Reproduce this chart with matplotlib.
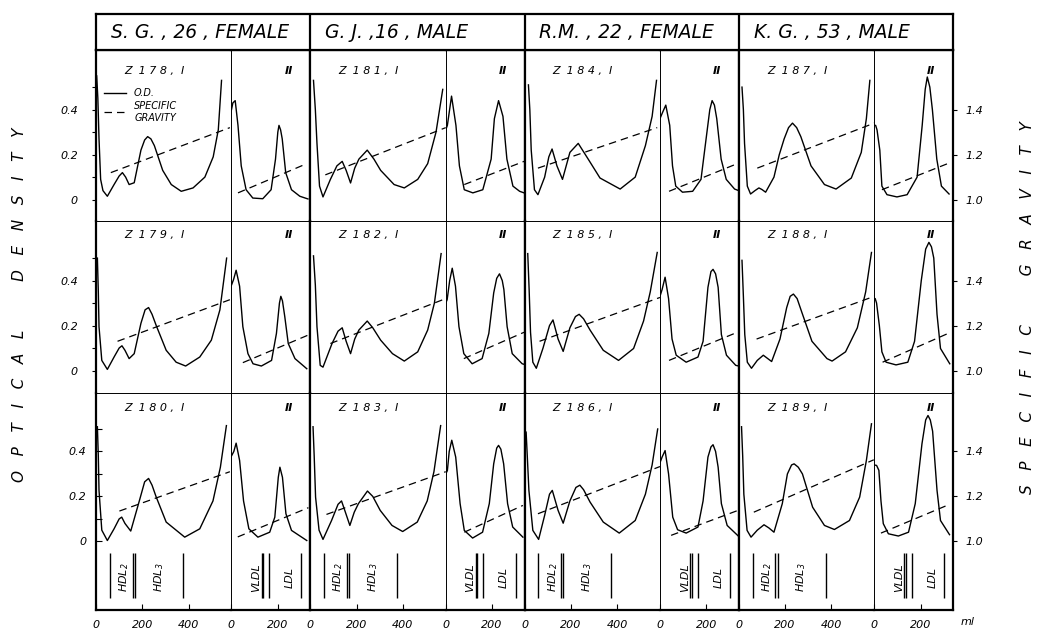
import matplotlib
matplotlib.use("Agg")
import matplotlib.pyplot as plt
from matplotlib.gridspec import GridSpec

# ---------------- data ----------------
subjects = ["S. G. , 26 , FEMALE", "G. J. ,16 , MALE", "R.M. , 22 , FEMALE", "K. G. , 53 , MALE"]
run_ids = [[178, 181, 184, 187],
           [179, 182, 185, 188],
           [180, 183, 186, 189]]

od_ticks = [0, 0.1, 0.2, 0.3, 0.4, 0.5]
od_ticklabels = ["0", "", "0.2", "", "0.4", ""]
sg_ticks = [1.0, 1.2, 1.4]
sg_ticklabels = ["1.0", "1.2", "1.4"]
vol_ticks_I = [0, 200, 400]
vol_ticks_II = [0, 200]

# fraction I (ml, O.D.) and specific gravity gradient (ml, s.g.)
z178_vol = [3, 8, 13, 20, 30, 49, 78, 100, 114, 128, 143, 165, 194, 210, 223, 237, 252, 288, 325, 368, 419, 470, 506, 528, 542]
z178_od = [0.55, 0.45, 0.27, 0.09, 0.04, 0.015, 0.067, 0.105, 0.12, 0.10, 0.067, 0.075, 0.22, 0.265, 0.28, 0.27, 0.24, 0.13, 0.067, 0.037, 0.052, 0.10, 0.19, 0.31, 0.53]
z178_sg_vol = [64, 578]
z178_sg = [1.12, 1.32]
z181_vol = [14, 22, 29, 40, 55, 87, 115, 138, 155, 174, 192, 210, 246, 275, 304, 362, 406, 464, 507, 543, 572]
z181_od = [0.53, 0.40, 0.25, 0.06, 0.012, 0.09, 0.15, 0.17, 0.13, 0.074, 0.14, 0.18, 0.22, 0.18, 0.13, 0.067, 0.052, 0.09, 0.16, 0.30, 0.49]
z181_sg_vol = [65, 585]
z181_sg = [1.11, 1.32]
z184_vol = [17, 23, 29, 43, 58, 87, 105, 119, 140, 164, 196, 232, 275, 326, 413, 478, 522, 551, 570]
z184_od = [0.51, 0.40, 0.22, 0.044, 0.022, 0.10, 0.19, 0.225, 0.15, 0.09, 0.21, 0.25, 0.18, 0.096, 0.047, 0.10, 0.24, 0.37, 0.53]
z184_sg_vol = [58, 573]
z184_sg = [1.14, 1.32]
z187_vol = [14, 20, 25, 37, 51, 70, 87, 100, 116, 152, 175, 196, 215, 232, 250, 268, 312, 370, 420, 486, 529, 551, 566]
z187_od = [0.50, 0.40, 0.25, 0.06, 0.025, 0.04, 0.052, 0.045, 0.033, 0.10, 0.20, 0.27, 0.32, 0.34, 0.32, 0.28, 0.15, 0.067, 0.047, 0.096, 0.21, 0.36, 0.53]
z187_sg_vol = [80, 585]
z187_sg = [1.14, 1.34]

z179_vol = [6, 10, 13, 25, 49, 78, 100, 112, 125, 143, 165, 194, 212, 227, 242, 260, 303, 346, 387, 448, 498, 535, 564]
z179_od = [0.50, 0.35, 0.195, 0.045, 0.005, 0.06, 0.10, 0.11, 0.09, 0.053, 0.075, 0.21, 0.27, 0.28, 0.25, 0.20, 0.09, 0.037, 0.02, 0.06, 0.135, 0.27, 0.50]
z179_sg_vol = [93, 578]
z179_sg = [1.13, 1.315]
z182_vol = [14, 22, 29, 43, 55, 94, 120, 138, 155, 174, 192, 210, 246, 270, 304, 355, 406, 464, 507, 536, 565]
z182_od = [0.51, 0.38, 0.195, 0.023, 0.015, 0.12, 0.175, 0.19, 0.13, 0.075, 0.14, 0.18, 0.22, 0.19, 0.135, 0.075, 0.042, 0.083, 0.18, 0.30, 0.52]
z182_sg_vol = [87, 585]
z182_sg = [1.12, 1.32]
z185_vol = [14, 20, 26, 36, 51, 80, 108, 123, 145, 167, 196, 220, 236, 255, 283, 340, 406, 471, 514, 543, 573]
z185_od = [0.52, 0.36, 0.17, 0.037, 0.01, 0.10, 0.20, 0.225, 0.14, 0.085, 0.19, 0.24, 0.25, 0.23, 0.18, 0.09, 0.045, 0.098, 0.22, 0.35, 0.525]
z185_sg_vol = [65, 585]
z185_sg = [1.13, 1.325]
z188_vol = [14, 20, 26, 37, 55, 80, 106, 142, 178, 207, 222, 236, 252, 272, 316, 381, 403, 461, 512, 548, 573]
z188_od = [0.49, 0.33, 0.16, 0.037, 0.01, 0.045, 0.068, 0.04, 0.14, 0.28, 0.33, 0.34, 0.32, 0.26, 0.13, 0.053, 0.042, 0.083, 0.19, 0.35, 0.525]
z188_sg_vol = [77, 585]
z188_sg = [1.14, 1.33]

z180_vol = [6, 10, 13, 25, 49, 78, 100, 111, 125, 150, 187, 210, 227, 242, 259, 303, 383, 448, 505, 537, 563]
z180_od = [0.51, 0.38, 0.227, 0.05, 0.004, 0.056, 0.10, 0.108, 0.08, 0.046, 0.18, 0.265, 0.28, 0.25, 0.20, 0.086, 0.019, 0.056, 0.18, 0.33, 0.515]
z180_sg_vol = [101, 578]
z180_sg = [1.135, 1.31]
z183_vol = [12, 17, 23, 38, 55, 92, 120, 135, 150, 171, 190, 208, 247, 270, 302, 353, 399, 462, 505, 534, 563]
z183_od = [0.51, 0.38, 0.197, 0.05, 0.009, 0.093, 0.165, 0.18, 0.135, 0.071, 0.13, 0.168, 0.224, 0.20, 0.138, 0.071, 0.044, 0.086, 0.18, 0.31, 0.515]
z183_sg_vol = [70, 585]
z183_sg = [1.12, 1.31]
z186_vol = [7, 12, 19, 36, 61, 87, 108, 120, 145, 167, 196, 222, 239, 255, 283, 340, 409, 478, 522, 551, 575]
z186_od = [0.486, 0.38, 0.227, 0.049, 0.009, 0.116, 0.21, 0.227, 0.138, 0.081, 0.18, 0.24, 0.25, 0.23, 0.175, 0.086, 0.037, 0.093, 0.21, 0.34, 0.50]
z186_sg_vol = [58, 585]
z186_sg = [1.123, 1.333]
z189_vol = [12, 17, 22, 36, 53, 80, 109, 130, 152, 188, 210, 228, 239, 257, 275, 319, 370, 413, 478, 522, 551, 573]
z189_od = [0.51, 0.38, 0.21, 0.049, 0.019, 0.05, 0.074, 0.06, 0.041, 0.168, 0.30, 0.34, 0.345, 0.33, 0.30, 0.152, 0.071, 0.053, 0.093, 0.197, 0.36, 0.523]
z189_sg_vol = [65, 583]
z189_sg = [1.13, 1.363]

# fraction II
z178_ii_vol = [0, 6, 16, 28, 42, 63, 92, 135, 171, 190, 200, 205, 212, 219, 234, 259, 295, 330]
z178_ii_od = [0.40, 0.43, 0.44, 0.33, 0.15, 0.044, 0.007, 0.004, 0.044, 0.18, 0.30, 0.33, 0.31, 0.27, 0.12, 0.044, 0.015, 0.003]
z178_ii_sg_vol = [28, 325]
z178_ii_sg = [1.03, 1.16]
z181_ii_vol = [0, 7, 25, 44, 59, 80, 117, 160, 196, 210, 228, 247, 264, 290, 319, 338]
z181_ii_od = [0.31, 0.33, 0.46, 0.33, 0.15, 0.044, 0.03, 0.044, 0.18, 0.36, 0.44, 0.37, 0.18, 0.06, 0.037, 0.03]
z181_ii_sg_vol = [80, 338]
z181_ii_sg = [1.067, 1.17]
z184_ii_vol = [0, 10, 25, 42, 54, 68, 97, 141, 177, 199, 215, 225, 235, 245, 264, 286, 322, 340]
z184_ii_od = [0.36, 0.385, 0.42, 0.33, 0.15, 0.06, 0.033, 0.037, 0.09, 0.27, 0.40, 0.44, 0.42, 0.36, 0.18, 0.09, 0.047, 0.04]
z184_ii_sg_vol = [39, 322]
z184_ii_sg = [1.037, 1.155]
z187_ii_vol = [0, 6, 12, 20, 24, 33, 55, 98, 142, 185, 207, 220, 229, 240, 251, 270, 290, 323]
z187_ii_od = [0.33, 0.33, 0.31, 0.25, 0.22, 0.06, 0.022, 0.012, 0.022, 0.10, 0.33, 0.49, 0.545, 0.50, 0.40, 0.18, 0.06, 0.025]
z187_ii_sg_vol = [33, 317]
z187_ii_sg = [1.044, 1.16]

z179_ii_vol = [0, 9, 20, 35, 49, 71, 93, 129, 173, 194, 207, 213, 220, 230, 245, 274, 325]
z179_ii_od = [0.38, 0.405, 0.446, 0.375, 0.195, 0.075, 0.03, 0.02, 0.045, 0.165, 0.30, 0.33, 0.31, 0.24, 0.12, 0.053, 0.008]
z179_ii_sg_vol = [49, 332]
z179_ii_sg = [1.035, 1.158]
z182_ii_vol = [0, 6, 17, 28, 42, 57, 78, 114, 157, 186, 207, 220, 232, 244, 251, 265, 287, 330, 340]
z182_ii_od = [0.30, 0.315, 0.40, 0.455, 0.375, 0.195, 0.075, 0.03, 0.053, 0.165, 0.345, 0.41, 0.43, 0.40, 0.36, 0.195, 0.075, 0.03, 0.027]
z182_ii_sg_vol = [78, 338]
z182_ii_sg = [1.053, 1.17]
z185_ii_vol = [0, 9, 22, 37, 52, 70, 113, 164, 186, 207, 220, 229, 240, 251, 265, 287, 327, 340]
z185_ii_od = [0.33, 0.36, 0.415, 0.32, 0.14, 0.068, 0.037, 0.06, 0.13, 0.37, 0.44, 0.45, 0.43, 0.37, 0.16, 0.068, 0.023, 0.02]
z185_ii_sg_vol = [39, 322]
z185_ii_sg = [1.045, 1.165]
z188_ii_vol = [0, 4, 10, 22, 33, 51, 94, 145, 174, 203, 222, 236, 247, 257, 271, 286, 326]
z188_ii_od = [0.32, 0.32, 0.30, 0.20, 0.083, 0.037, 0.025, 0.037, 0.13, 0.40, 0.54, 0.57, 0.55, 0.50, 0.25, 0.098, 0.03]
z188_ii_sg_vol = [36, 319]
z188_ii_sg = [1.037, 1.165]

z180_ii_vol = [0, 10, 20, 35, 52, 75, 114, 165, 187, 202, 209, 220, 235, 259, 325]
z180_ii_od = [0.38, 0.40, 0.437, 0.36, 0.18, 0.056, 0.019, 0.041, 0.108, 0.285, 0.33, 0.285, 0.123, 0.049, 0.004]
z180_ii_sg_vol = [27, 332]
z180_ii_sg = [1.02, 1.15]
z183_ii_vol = [0, 7, 15, 26, 43, 62, 80, 116, 159, 188, 207, 220, 228, 238, 250, 267, 289, 333]
z183_ii_od = [0.30, 0.315, 0.40, 0.45, 0.375, 0.168, 0.049, 0.015, 0.041, 0.168, 0.345, 0.415, 0.427, 0.41, 0.345, 0.168, 0.064, 0.019]
z183_ii_sg_vol = [80, 333]
z183_ii_sg = [1.041, 1.16]
z186_ii_vol = [0, 9, 22, 37, 55, 76, 113, 164, 186, 207, 220, 229, 240, 251, 265, 290, 340]
z186_ii_od = [0.35, 0.375, 0.404, 0.30, 0.108, 0.052, 0.037, 0.064, 0.18, 0.375, 0.42, 0.43, 0.40, 0.33, 0.168, 0.071, 0.022]
z186_ii_sg_vol = [48, 337]
z186_ii_sg = [1.027, 1.138]
z189_ii_vol = [0, 10, 20, 29, 39, 61, 104, 148, 177, 206, 222, 232, 242, 252, 271, 286, 325]
z189_ii_od = [0.34, 0.338, 0.316, 0.18, 0.079, 0.034, 0.024, 0.041, 0.168, 0.434, 0.54, 0.56, 0.54, 0.49, 0.227, 0.093, 0.03]
z189_ii_sg_vol = [29, 314]
z189_ii_sg = [1.037, 1.16]

# lipoprotein class boundaries (ml) marked under the bottom row
cuts_I = [60, 158, 168, 375]
names_I = ["HDL$_2$", "HDL$_3$"]
names_I_vol = [122, 271]
cuts_II = [130, 137, 162, 302]
names_II = ["VLDL", "LDL"]
names_II_vol = [107, 252]

frac_I = {
    178: (z178_vol, z178_od, z178_sg_vol, z178_sg), 181: (z181_vol, z181_od, z181_sg_vol, z181_sg),
    184: (z184_vol, z184_od, z184_sg_vol, z184_sg), 187: (z187_vol, z187_od, z187_sg_vol, z187_sg),
    179: (z179_vol, z179_od, z179_sg_vol, z179_sg), 182: (z182_vol, z182_od, z182_sg_vol, z182_sg),
    185: (z185_vol, z185_od, z185_sg_vol, z185_sg), 188: (z188_vol, z188_od, z188_sg_vol, z188_sg),
    180: (z180_vol, z180_od, z180_sg_vol, z180_sg), 183: (z183_vol, z183_od, z183_sg_vol, z183_sg),
    186: (z186_vol, z186_od, z186_sg_vol, z186_sg), 189: (z189_vol, z189_od, z189_sg_vol, z189_sg),
}
frac_II = {
    178: (z178_ii_vol, z178_ii_od, z178_ii_sg_vol, z178_ii_sg), 181: (z181_ii_vol, z181_ii_od, z181_ii_sg_vol, z181_ii_sg),
    184: (z184_ii_vol, z184_ii_od, z184_ii_sg_vol, z184_ii_sg), 187: (z187_ii_vol, z187_ii_od, z187_ii_sg_vol, z187_ii_sg),
    179: (z179_ii_vol, z179_ii_od, z179_ii_sg_vol, z179_ii_sg), 182: (z182_ii_vol, z182_ii_od, z182_ii_sg_vol, z182_ii_sg),
    185: (z185_ii_vol, z185_ii_od, z185_ii_sg_vol, z185_ii_sg), 188: (z188_ii_vol, z188_ii_od, z188_ii_sg_vol, z188_ii_sg),
    180: (z180_ii_vol, z180_ii_od, z180_ii_sg_vol, z180_ii_sg), 183: (z183_ii_vol, z183_ii_od, z183_ii_sg_vol, z183_ii_sg),
    186: (z186_ii_vol, z186_ii_od, z186_ii_sg_vol, z186_ii_sg), 189: (z189_ii_vol, z189_ii_od, z189_ii_sg_vol, z189_ii_sg),
}

# ---------------- layout ----------------
plt.rcParams['font.family'] = ['DejaVu Sans']
plt.rcParams['font.style'] = 'italic'

W, H = 1038, 631
fig = plt.figure(figsize=(W / 100, H / 100), dpi=100)
left, right = 96 / W, 953 / W
top, bottom = 1 - 50 / H, 1 - 610 / H

XMAX_I, XMAX_II = 585, 340
row_ylim = [(-0.095, 0.665), (-0.10, 0.665), (-0.305, 0.66)]
label_y = [0.877, 0.919, 0.931]
THICK, THIN = 1.6, 0.7

gs = GridSpec(3, 8, figure=fig, left=left, right=right, top=top, bottom=bottom,
              wspace=0, hspace=0, width_ratios=[XMAX_I, XMAX_II] * 4,
              height_ratios=[171, 172, 217])

for r in range(3):
    for c in range(4):
        rid = run_ids[r][c]
        for p, (table, xmax) in enumerate([(frac_I, XMAX_I), (frac_II, XMAX_II)]):
            vol, od, sg_vol, sg = table[rid]
            ax = fig.add_subplot(gs[r, 2 * c + p])
            lo, hi = row_ylim[r]
            ax.set_xlim(0, xmax)
            ax.set_ylim(lo, hi)
            od_line, = ax.plot(vol, od, color='black', lw=1.0, solid_joinstyle='round')

            # specific gravity on its own (hidden) scale, 1.0 level with O.D. 0
            tw = ax.twinx()
            tw.set_ylim(lo + 1, hi + 1)
            sg_line, = tw.plot(sg_vol, sg, color='black', lw=0.9, dashes=(6, 4))
            for s in tw.spines.values():
                s.set_visible(False)

            ax.spines['left'].set_linewidth(THICK if p == 0 else THIN)
            ax.spines['right'].set_linewidth(THICK if p == 1 else THIN)
            ax.spines['top'].set_linewidth(THICK if r == 0 else THIN)
            ax.spines['bottom'].set_linewidth(THICK if r == 2 else THIN)

            ax.tick_params(left=False, bottom=False, labelleft=False, labelbottom=False)
            tw.tick_params(right=False, labelright=False)

            if c == 0 and p == 0:
                ax.set_yticks(od_ticks)
                ax.set_yticklabels(od_ticklabels)
                ax.tick_params(left=True, labelleft=True, direction='out', length=3,
                               width=0.8, pad=10, labelsize=8)
            if c == 3 and p == 1:
                tw.set_yticks(sg_ticks)
                tw.set_yticklabels(sg_ticklabels)
                tw.tick_params(right=True, labelright=True, direction='out', length=3,
                               width=0.8, pad=6, labelsize=8)
            if r == 2:
                ax.set_xticks(vol_ticks_I if p == 0 else vol_ticks_II)
                ax.tick_params(bottom=True, labelbottom=True, direction='in', length=4,
                               width=0.8, pad=7, labelsize=8)
                cuts = cuts_I if p == 0 else cuts_II
                ax.vlines(cuts, -0.25, -0.05, color='black', lw=1.0)
                names = names_I if p == 0 else names_II
                pos = names_I_vol if p == 0 else names_II_vol
                for nm, x in zip(names, pos):
                    ax.text(x, -0.16, nm, rotation=90, ha='center', va='center', fontsize=8)

            if p == 0:
                ax.text(0.43, label_y[r], "Z  " + " ".join(str(rid)) + " ,  I",
                        transform=ax.transAxes, ha='center', va='center', fontsize=8)
            else:
                ax.text(0.72, label_y[r], "\u2161", transform=ax.transAxes,
                        ha='center', va='center', fontsize=8, fontweight='bold')

            if r == 0 and c == 0 and p == 0:
                ax.legend([od_line, sg_line], ["O.D.", "SPECIFIC\nGRAVITY"],
                          loc='upper left', bbox_to_anchor=(0.03, 0.80), frameon=False,
                          fontsize=7, handlelength=2.3, handletextpad=0.8,
                          labelspacing=0.3, borderaxespad=0)

# header strip with subject names
hax = fig.add_axes([left, 1 - 50 / H, right - left, 36 / H])
hax.set_xlim(0, 4)
hax.set_ylim(0, 1)
hax.set_xticks([])
hax.set_yticks([])
for s in hax.spines.values():
    s.set_linewidth(THICK)
for c, name in enumerate(subjects):
    if c > 0:
        hax.axvline(c, color='black', lw=THICK)
    hax.text(c + 0.07, 0.5, name, ha='left', va='center', fontsize=13.5)

fig.text(20 / W, 1 - 305 / H, "O   P   T   I   C   A   L          D   E   N   S   I   T   Y",
         rotation=90, ha='center', va='center', fontsize=11)
fig.text(1027 / W, 1 - 308 / H, "S   P   E   C   I   F   I   C          G   R   A   V   I   T   Y",
         rotation=90, ha='center', va='center', fontsize=11)
fig.text(968 / W, 1 - 622 / H, "ml", ha='center', va='center', fontsize=8)

fig.savefig("out.png", dpi=100)
